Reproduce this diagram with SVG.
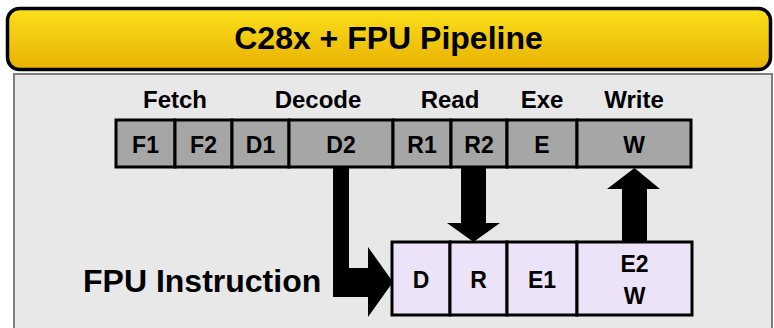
<svg xmlns="http://www.w3.org/2000/svg" width="774" height="328" viewBox="0 0 774 328">
<defs>
<linearGradient id="gold" x1="0" y1="0" x2="0" y2="1">
<stop offset="0" stop-color="#fbe01c"/>
<stop offset="1" stop-color="#e8b102"/>
</linearGradient>
<style>
text{font-family:"Liberation Sans",Arial,sans-serif;font-weight:bold;fill:#000;text-anchor:middle}
.stage{font-size:24px}
.cell{fill:#a6a6a6;stroke:#000;stroke-width:3}
.fpu{fill:#ede3f9;stroke:#000;stroke-width:3}
.lbl{font-size:23px}
.arrow{fill:#000;stroke:none}
</style>
</defs>
<rect x="0" y="0" width="774" height="328" fill="#ffffff"/>
<rect id="panel" x="14" y="74" width="758" height="270" fill="#e8e8e8" stroke="#7f7f7f" stroke-width="2"/>
<g id="banner">
<rect x="7.5" y="8.5" width="763" height="61" rx="12" fill="url(#gold)" stroke="#000" stroke-width="3.5"/>
<text x="388.5" y="49" style="font-size:32px">C28x + FPU Pipeline</text>
</g>
<g id="stage-labels">
<text x="175" y="108" class="stage">Fetch</text>
<text x="318" y="108" class="stage">Decode</text>
<text x="450" y="108" class="stage">Read</text>
<text x="542" y="108" class="stage">Exe</text>
<text x="634" y="108" class="stage">Write</text>
</g>
<g id="c28x-pipeline">
<g id="F1"><rect class="cell" x="116" y="120" width="59" height="47"/><text class="lbl" x="145.5" y="153">F1</text></g>
<g id="F2"><rect class="cell" x="175" y="120" width="57" height="47"/><text class="lbl" x="203.5" y="153">F2</text></g>
<g id="D1"><rect class="cell" x="232" y="120" width="57" height="47"/><text class="lbl" x="260.5" y="153">D1</text></g>
<g id="D2"><rect class="cell" x="289" y="120" width="104" height="47"/><text class="lbl" x="341" y="153">D2</text></g>
<g id="R1"><rect class="cell" x="393" y="120" width="58" height="47"/><text class="lbl" x="422" y="153">R1</text></g>
<g id="R2"><rect class="cell" x="451" y="120" width="56" height="47"/><text class="lbl" x="479" y="153">R2</text></g>
<g id="E"><rect class="cell" x="507" y="120" width="70" height="47"/><text class="lbl" x="542" y="153">E</text></g>
<g id="W"><rect class="cell" x="577" y="120" width="114" height="47"/><text class="lbl" x="634" y="153">W</text></g>
</g>
<g id="fpu-label"><text x="83" y="292" style="font-size:32px;text-anchor:start">FPU Instruction</text></g>
<g id="fpu-pipeline">
<g id="fD"><rect class="fpu" x="392" y="242" width="58" height="73"/><text class="lbl" x="421" y="288">D</text></g>
<g id="fR"><rect class="fpu" x="450" y="242" width="57" height="73"/><text class="lbl" x="478.5" y="288">R</text></g>
<g id="fE1"><rect class="fpu" x="507" y="242" width="70" height="73"/><text class="lbl" x="542" y="288">E1</text></g>
<g id="fE2W"><rect class="fpu" x="577" y="242" width="115" height="73"/><text class="lbl" x="634.5" y="272">E2</text><text class="lbl" x="634.5" y="304">W</text></g>
</g>
<g id="connectors">
<path class="arrow" d="M333,167 H349 V268 H368 V247 L393,282 L368,317 V297 H333 Z"/>
<path class="arrow" d="M461,167 H486 V223 H500 L473.5,242 L447,223 H461 Z"/>
<path class="arrow" d="M622,242 V189 H607 L634.5,168 L660,189 H647 V242 Z"/>
</g>
</svg>
